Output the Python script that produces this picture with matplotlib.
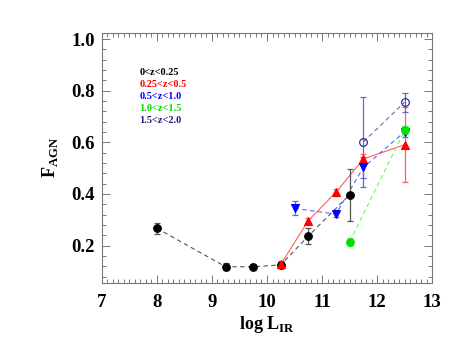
import matplotlib
matplotlib.use("Agg")
import matplotlib.pyplot as plt
from matplotlib.ticker import MultipleLocator

plt.rcParams['font.family'] = ['Liberation Serif', 'DejaVu Serif']
plt.rcParams['mathtext.fontset'] = 'custom'
plt.rcParams['mathtext.rm'] = 'Liberation Serif:bold'
plt.rcParams['mathtext.bf'] = 'Liberation Serif:bold'

labels = ['0<z<0.25', '0.25<z<0.5', '0.5<z<1.0', '1.0<z<1.5', '1.5<z<2.0']
colors = ['black', 'red', 'blue', '#00e000', '#1c1c80']
line_colors = ['#555555', '#ff6060', '#6060ff', '#60ff60', '#6a6ab8']
markers = ['o', '^', 'v', 'o', 'o']
filled = [True, True, True, True, False]
linestyles = ['--', '-', '--', '--', '--']

x0 = [8.0, 9.25, 9.75, 10.25, 10.75, 11.5]
y0 = [0.267, 0.118, 0.118, 0.125, 0.237, 0.397]
e0 = [0.022, 0.013, 0.01, 0.01, 0.032, 0.10]

x1 = [10.25, 10.75, 11.25, 11.75, 12.5]
y1 = [0.127, 0.297, 0.406, 0.536, 0.591]
e1 = [0.012, 0.01, 0.015, 0.02, 0.145]

x2 = [10.5, 11.25, 11.75, 12.5]
y2 = [0.344, 0.322, 0.503, 0.641]
e2 = [0.027, 0.01, 0.04, 0.02]

x3 = [11.5, 12.5]
y3 = [0.215, 0.647]
e3 = [0.015, 0.015]

x4 = [11.75, 12.5]
y4 = [0.602, 0.756]
e4 = [0.175, 0.037]

series = [(x0, y0, e0), (x1, y1, e1), (x2, y2, e2), (x3, y3, e3), (x4, y4, e4)]

fig = plt.figure(figsize=(4.63, 3.48), dpi=100)
ax = fig.add_axes([101.7/463, 1 - 283/348, (432.3-101.7)/463, (283-32.7)/348])

for i, (xs, ys, es) in enumerate(series):
    ax.errorbar(xs, ys, yerr=es, fmt='none', ecolor=line_colors[i], elinewidth=0.9,
                capsize=2.5, capthick=0.9, zorder=2)
    ax.plot(xs, ys, linestyle=linestyles[i], color=line_colors[i], lw=0.8,
            dashes=(4, 3) if linestyles[i] == '--' else (None, None), zorder=1)
    ax.plot(xs, ys, linestyle='none', marker=markers[i], ms=5.5,
            mfc=colors[i] if filled[i] else 'none', mec=colors[i], mew=0.8, zorder=3)

ax.set_xlim(7, 13)
ax.set_ylim(0.055, 1.025)
ax.xaxis.set_major_locator(MultipleLocator(1))
ax.xaxis.set_minor_locator(MultipleLocator(0.1))
ax.yaxis.set_major_locator(MultipleLocator(0.2))
ax.yaxis.set_minor_locator(MultipleLocator(0.04))
ax.tick_params(which='both', direction='in', top=True, right=True, color='#777777', width=0.7)
ax.tick_params(which='major', length=6)
ax.tick_params(which='minor', length=3)
for sp in ax.spines.values():
    sp.set_color('#777777')
    sp.set_linewidth(0.8)

ax.set_xticks([7, 8, 9, 10, 11, 12, 13])
ax.set_xticklabels(['7', '8', '9', '10', '11', '12', '13'])
ax.set_yticks([0.2, 0.4, 0.6, 0.8, 1.0])
ax.set_yticklabels(['0.2', '0.4', '0.6', '0.8', '1.0'])
for lab in ax.get_xticklabels() + ax.get_yticklabels():
    lab.set_fontweight('bold')
    lab.set_fontsize(13.5)
ax.tick_params(axis='x', pad=8)
ax.tick_params(axis='y', pad=5)

ax.set_xlabel(r'log L$_{\mathbf{IR}}$', fontsize=13, fontweight='bold', labelpad=2)
ax.set_ylabel(r'F$_{\mathbf{AGN}}$', fontsize=13, fontweight='bold', labelpad=8)

for i, lab in enumerate(labels):
    fig.text(139.3/463, 1 - (72.7 + 12*i)/348, lab, color=colors[i], fontsize=7.5,
             fontweight='bold', va='center', ha='left')

fig.savefig('out.png', dpi=100)
